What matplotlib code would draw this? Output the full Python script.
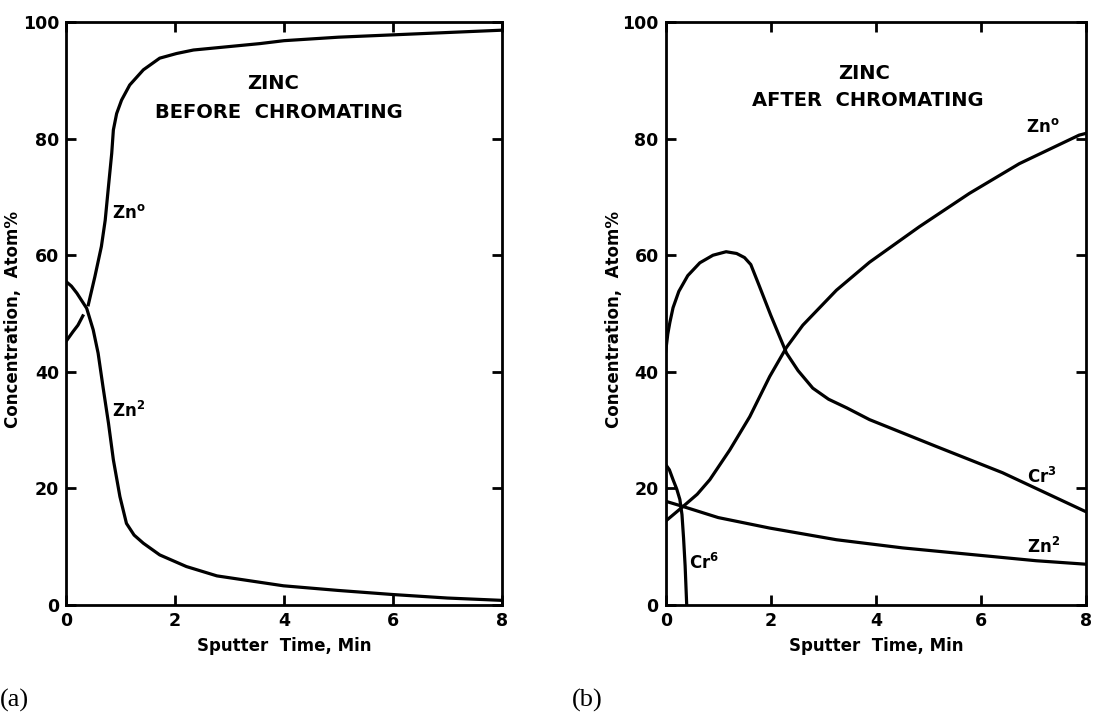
import matplotlib
matplotlib.use("Agg")
import matplotlib.pyplot as plt
import numpy as np

plt.rcParams['font.family'] = 'DejaVu Sans'
plt.rcParams['font.weight'] = 'bold'
plt.rcParams['mathtext.fontset'] = 'dejavusans'
plt.rcParams['mathtext.default'] = 'bf'

nan = np.nan

# (a) zinc before chromating  (nan = small break in the drawn line)
a_zn0_t = [0, 0.13, 0.22, 0.31, 0.36, 0.41, 0.53, 0.65, 0.72, 0.78, 0.84, 0.87, 0.93, 1.02, 1.17, 1.42, 1.72, 2.03, 2.34, 3.56, 4.0, 5.0, 6.0, 7.0, 8.0]
a_zn0_v = [45.2, 46.9, 48.0, 49.6, nan, 51.5, 56.3, 61.5, 66.0, 71.8, 77.5, 81.5, 84.3, 86.6, 89.2, 91.8, 93.8, 94.6, 95.2, 96.3, 96.8, 97.4, 97.8, 98.2, 98.6]
a_zn2_t = [0, 0.1, 0.2, 0.38, 0.5, 0.59, 0.68, 0.78, 0.87, 0.99, 1.11, 1.25, 1.42, 1.72, 2.21, 2.77, 3.99, 5.0, 6.0, 7.0, 8.0]
a_zn2_v = [55.5, 54.7, 53.5, 50.9, 47.2, 43.2, 37.4, 31.2, 24.9, 18.6, 14.0, 12.0, 10.6, 8.6, 6.6, 5.0, 3.3, 2.5, 1.8, 1.2, 0.8]

# (b) zinc after chromating
b_cr3_t = [0, 0.04, 0.08, 0.14, 0.25, 0.42, 0.65, 0.9, 1.15, 1.35, 1.5, 1.62, 1.77, 2.0, 2.3, 2.52, 2.8, 3.1, 3.45, 3.88, 5.15, 6.41, 8.0]
b_cr3_v = [43.5, 46.5, 48.5, 51.0, 53.8, 56.5, 58.7, 60.0, 60.6, 60.3, 59.6, 58.4, 55.0, 49.7, 43.2, 40.2, 37.2, 35.3, 33.8, 31.8, 27.2, 22.7, 16.0]
b_zn0_t = [0, 0.33, 0.6, 0.84, 1.22, 1.6, 1.98, 2.3, 2.61, 3.25, 3.88, 4.83, 5.78, 6.73, 7.87, 8.0]
b_zn0_v = [14.4, 16.9, 19.0, 21.5, 26.6, 32.3, 39.2, 44.2, 48.0, 54.0, 58.8, 64.9, 70.6, 75.7, 80.6, 80.9]
b_zn2_t = [0, 0.33, 1.0, 1.98, 3.25, 4.51, 5.78, 7.05, 8.0]
b_zn2_v = [17.8, 16.9, 15.0, 13.2, 11.2, 9.8, 8.7, 7.6, 7.0]
b_cr6_t = [0, 0.07, 0.14, 0.21, 0.27, 0.31, 0.34, 0.37, 0.4]
b_cr6_v = [24.1, 23.2, 21.5, 19.9, 18.1, 15.5, 11.5, 6.7, 0]

ticks_x = [0, 2, 4, 6, 8]
ticks_y = [0, 20, 40, 60, 80, 100]

fig = plt.figure(figsize=(11.16, 7.15), dpi=100)
ax1 = fig.add_axes([0.0591, 0.1538, 0.3907, 0.8154])
ax2 = fig.add_axes([0.5965, 0.1538, 0.3766, 0.8154])

for ax in (ax1, ax2):
    ax.set_xlim(0, 8)
    ax.set_ylim(0, 100)
    ax.set_xticks(ticks_x)
    ax.set_yticks(ticks_y)
    ax.tick_params(direction='in', length=7, width=2, top=True, right=True,
                   labelsize=12.5, pad=5)
    for sp in ax.spines.values():
        sp.set_linewidth(2)
    ax.set_xlabel('Sputter  Time, Min', fontsize=12, fontweight='bold', labelpad=5)
    ax.set_ylabel('Concentration,  Atom%', fontsize=12, fontweight='bold')
    ax.yaxis.set_label_coords(-0.101, 0.49)

lw = 2.3
ax1.plot(a_zn0_t, a_zn0_v, color='black', lw=lw)
ax1.plot(a_zn2_t, a_zn2_v, color='black', lw=lw)
ax1.text(0.84, 67.2, 'Zn$^{o}$', fontsize=12, va='center')
ax1.text(0.84, 33.3, 'Zn$^{2}$', fontsize=12, va='center')
ax1.text(3.8, 89.5, 'ZINC', fontsize=14, ha='center', va='center')
ax1.text(3.91, 84.4, 'BEFORE  CHROMATING', fontsize=14, ha='center', va='center')

ax2.plot(b_cr3_t, b_cr3_v, color='black', lw=lw)
ax2.plot(b_zn0_t, b_zn0_v, color='black', lw=lw)
ax2.plot(b_zn2_t, b_zn2_v, color='black', lw=lw)
ax2.plot(b_cr6_t, b_cr6_v, color='black', lw=lw)
ax2.text(6.85, 82.0, 'Zn$^{o}$', fontsize=12, va='center')
ax2.text(6.88, 22.0, 'Cr$^{3}$', fontsize=12, va='center')
ax2.text(6.88, 10.0, 'Zn$^{2}$', fontsize=12, va='center')
ax2.text(0.44, 7.3, 'Cr$^{6}$', fontsize=12, va='center')
ax2.text(3.78, 91.1, 'ZINC', fontsize=14, ha='center', va='center')
ax2.text(3.84, 86.5, 'AFTER  CHROMATING', fontsize=14, ha='center', va='center')

fig.text(0.0, 0.02, '(a)', fontsize=19, family='Liberation Serif', fontweight='normal', va='center')
fig.text(0.5125, 0.02, '(b)', fontsize=19, family='Liberation Serif', fontweight='normal', va='center')

fig.savefig('out.png', dpi=100)
